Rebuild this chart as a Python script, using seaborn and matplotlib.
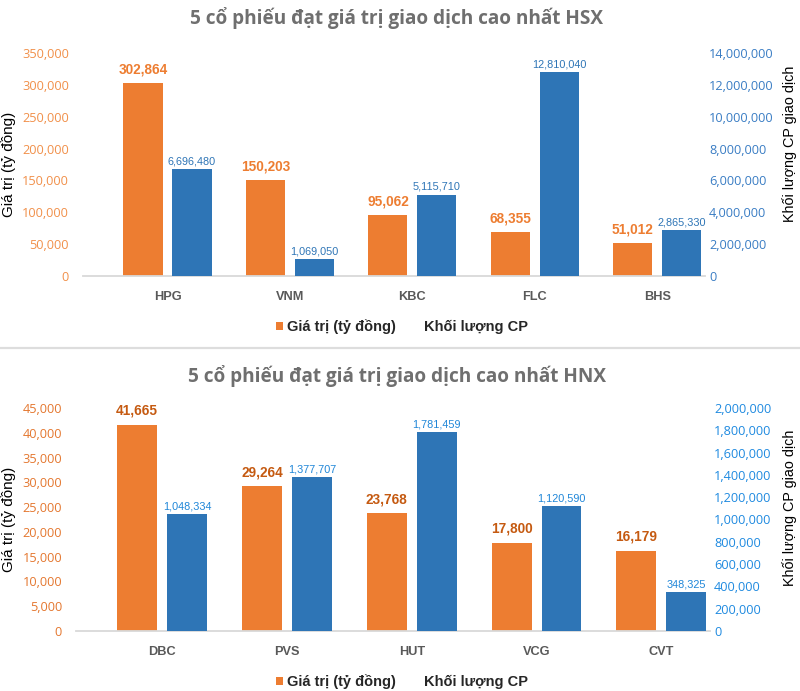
import matplotlib
matplotlib.use("Agg")
import matplotlib.pyplot as plt
from matplotlib.patches import Patch
from matplotlib.lines import Line2D
import numpy as np
import pandas as pd
import seaborn as sns

# ---------------- data ----------------
hsx_codes = ["HPG", "VNM", "KBC", "FLC", "BHS"]
hsx_value = [302864, 150203, 95062, 68355, 51012]
hsx_volume = [6696480, 1069050, 5115710, 12810040, 2865330]

hnx_codes = ["DBC", "PVS", "HUT", "VCG", "CVT"]
hnx_value = [41665, 29264, 23768, 17800, 16179]
hnx_volume = [1048334, 1377707, 1781459, 1120590, 348325]

hsx_title = "5 cổ phiếu đạt giá trị giao dịch cao nhất HSX"
hnx_title = "5 cổ phiếu đạt giá trị giao dịch cao nhất HNX"
lab_value = "Giá trị (tỷ đồng)"
lab_volume = "Khối lượng CP"
ylab_left = "Giá trị (tỷ đồng)"
ylab_right = "Khối lượng CP giao dịch"

sns.set_theme(style="white")
plt.rcParams["font.family"] = ["Open Sans", "DejaVu Sans"]

NARROW = ["Liberation Sans Narrow", "Liberation Sans", "DejaVu Sans"]
ARIAL = ["Liberation Sans", "DejaVu Sans"]

ORANGE = "#ED7D31"
BLUE = "#2E75B6"

W, H = 800, 691
fig = plt.figure(figsize=(W / 100, H / 100), dpi=100)


def px_rect(l, r, top, bottom):
    return [l / W, 1 - bottom / H, (r - l) / W, (bottom - top) / H]


def real_container(ax):
    for c in ax.containers:
        if len(c) and all(p is not None for p in c):
            return c
    return None


def panel(rect, codes, values, volumes, y1max, y1step, y2max, y2step,
          c_tick1, c_tick2, c_lab1, c_lab2, title, title_y, leg_y, rlab_y):
    ax1 = fig.add_axes(rect)
    ax2 = ax1.twinx()
    df = pd.DataFrame({
        "ma": list(codes) * 2,
        "loai": [lab_value] * len(codes) + [lab_volume] * len(codes),
        "so": list(values) + list(volumes),
    })
    pal = {lab_value: ORANGE, lab_volume: BLUE}
    sns.barplot(data=df[df["loai"] == lab_value], x="ma", y="so", hue="loai",
                hue_order=[lab_value, lab_volume], order=codes, palette=pal,
                width=0.8, gap=0.2, dodge=True, errorbar=None, legend=False,
                linewidth=0, saturation=1, ax=ax1)
    sns.barplot(data=df[df["loai"] == lab_volume], x="ma", y="so", hue="loai",
                hue_order=[lab_value, lab_volume], order=codes, palette=pal,
                width=0.8, gap=0.2, dodge=True, errorbar=None, legend=False,
                linewidth=0, saturation=1, ax=ax2)
    ax1.set_xlim(-0.69, len(codes) - 1 + 0.39)
    ax1.set_ylim(0, y1max)
    ax2.set_ylim(0, y2max)
    ax1.set_yticks(np.arange(0, y1max + 1, y1step))
    ax2.set_yticks(np.arange(0, y2max + 1, y2step))
    ax1.set_yticklabels([f"{int(v):,}" for v in ax1.get_yticks()])
    ax2.set_yticklabels([f"{int(v):,}" for v in ax2.get_yticks()])
    for ax in (ax1, ax2):
        ax.set_xlabel("")
        ax.set_ylabel("")
        for s in ax.spines.values():
            s.set_visible(False)
        ax.grid(False)
    ax1.spines["bottom"].set_visible(True)
    ax1.spines["bottom"].set_color("#D9D9D9")
    ax1.spines["bottom"].set_linewidth(1.3)
    ax1.tick_params(axis="y", length=0, pad=10, labelsize=9.2, labelcolor=c_tick1)
    ax2.tick_params(axis="y", length=0, pad=3, labelsize=9.2, labelcolor=c_tick2)
    ax1.tick_params(axis="x", length=0, pad=11)
    for t in ax1.get_xticklabels():
        t.set_fontfamily(NARROW)
        t.set_fontweight("bold")
        t.set_fontsize(9.2)
        t.set_color("#595959")
    ax1.bar_label(real_container(ax1), labels=[f"{v:,}" for v in values],
                  padding=5, fontsize=9.8, fontweight="bold", color=c_lab1,
                  family=NARROW)
    ax2.bar_label(real_container(ax2), labels=[f"{v:,}" for v in volumes],
                  padding=2, fontsize=7.8, color=c_lab2, family=NARROW)
    pos = ax1.get_position()
    yc = (pos.y0 + pos.y1) / 2
    fig.text(9 / W, yc, ylab_left, rotation=90, ha="center", va="center",
             fontsize=11, color="black", family=ARIAL)
    fig.text(790 / W, 1 - rlab_y / H, ylab_right, rotation=90, ha="center",
             va="center", fontsize=10.4, color="black", family=ARIAL)
    fig.text(397 / W, 1 - title_y / H, title, ha="center", va="center",
             fontsize=13.7, fontweight="bold", color="#6F6F6F")
    fig.legend(handles=[Patch(facecolor=ORANGE, edgecolor="none"),
                        Patch(facecolor="none", edgecolor="none")],
               labels=[lab_value, lab_volume], loc="center",
               bbox_to_anchor=(402 / W, 1 - leg_y / H), ncol=2, frameon=False,
               handlelength=0.5, handleheight=0.5, handletextpad=0.25,
               columnspacing=1.2,
               prop=dict(family=ARIAL, weight="bold", size=10.5))


panel(px_rect(83, 705, 53, 276), hsx_codes, hsx_value, hsx_volume,
      350000, 50000, 14000000, 2000000,
      "#F1904A", "#3A7DC4", ORANGE, "#2E75B6", hsx_title, 18, 327, 144)
panel(px_rect(76, 710, 408, 631), hnx_codes, hnx_value, hnx_volume,
      45000, 5000, 2000000, 200000,
      "#E4772F", "#1F8AE0", "#C55A11", "#1F86D8", hnx_title, 376, 682, 508)

fig.add_artist(Line2D([0, 1], [1 - 348 / H] * 2, transform=fig.transFigure,
                      color="#DDDDDD", lw=1.6))

fig.savefig("out.png", dpi=100, facecolor="white")
